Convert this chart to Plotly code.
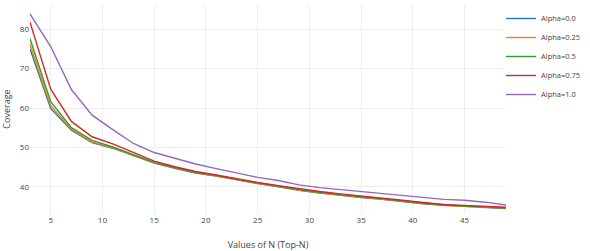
import plotly.graph_objects as go

n_values = [3, 5, 7, 9, 11, 13, 15, 17, 19, 21, 23, 25, 27, 29, 31, 33, 35, 37, 39, 41, 43, 45, 47, 49]

alpha_00 = [75.0, 59.9, 54.4, 51.2, 49.8, 47.9, 46.0, 44.7, 43.5, 42.7, 41.7, 40.8,
            40.0, 39.1, 38.4, 37.8, 37.3, 36.8, 36.2, 35.7, 35.3, 35.0, 34.7, 34.5]
alpha_025 = [76.2, 60.6, 54.6, 51.4, 49.9, 48.0, 46.1, 44.8, 43.6, 42.8, 41.8, 40.9,
             40.1, 39.2, 38.5, 37.9, 37.4, 36.9, 36.3, 35.8, 35.3, 35.1, 34.8, 34.6]
alpha_05 = [77.6, 61.6, 55.0, 51.8, 50.1, 48.2, 46.2, 44.9, 43.7, 42.9, 41.9, 41.0,
            40.2, 39.3, 38.6, 38.0, 37.5, 37.0, 36.4, 35.9, 35.4, 35.2, 34.9, 34.6]
alpha_075 = [81.8, 64.8, 56.6, 52.7, 50.9, 48.7, 46.5, 45.1, 43.9, 43.0, 42.0, 41.1,
             40.3, 39.5, 38.8, 38.2, 37.7, 37.2, 36.6, 36.0, 35.5, 35.3, 35.0, 34.8]
alpha_10 = [83.9, 75.6, 64.7, 58.2, 54.5, 51.0, 48.7, 47.3, 45.8, 44.6, 43.5, 42.4,
            41.6, 40.5, 39.8, 39.3, 38.7, 38.2, 37.8, 37.3, 36.8, 36.6, 36.1, 35.4]

series_names = ["Alpha=0.0", "Alpha=0.25", "Alpha=0.5", "Alpha=0.75", "Alpha=1.0"]
series_values = [alpha_00, alpha_025, alpha_05, alpha_075, alpha_10]
colors = ["#1f77b4", "#ff7f0e", "#2ca02c", "#d62728", "#9467bd"]

fig = go.Figure()
for name, vals, c in zip(series_names, series_values, colors):
    fig.add_trace(go.Scatter(x=n_values, y=vals, mode="lines", name=name,
                             line=dict(color=c, width=1.4)))

font_family = "Open Sans, verdana, arial, sans-serif"
fig.update_layout(
    width=590, height=251,
    margin=dict(l=30, r=82, t=4, b=37),
    paper_bgcolor="white", plot_bgcolor="white",
    font=dict(family=font_family, size=8, color="#444"),
    showlegend=True,
    legend=dict(x=0.9895, y=1.0, xanchor="left", yanchor="top",
                font=dict(size=7.5, color="#444"), bgcolor="rgba(0,0,0,0)",
                borderwidth=0),
    xaxis=dict(range=[3, 49], tickvals=[5, 10, 15, 20, 25, 30, 35, 40, 45],
               showgrid=True, gridcolor="#eeeeee", gridwidth=1, zeroline=False,
               showline=False, ticks="", tickfont=dict(size=8, color="#444"),
               title=dict(text="Values of N (Top-N)", font=dict(size=9, color="#444"),
                          standoff=21),
               automargin=False),
    yaxis=dict(range=[33.1, 86.4], tickvals=[40, 50, 60, 70, 80],
               showgrid=True, gridcolor="#eeeeee", gridwidth=1, zeroline=False,
               showline=False, ticks="", tickfont=dict(size=8, color="#444"),
               title=dict(text="Coverage", font=dict(size=9, color="#444"),
                          standoff=8),
               automargin=False),
)

fig.write_html("out.html")
